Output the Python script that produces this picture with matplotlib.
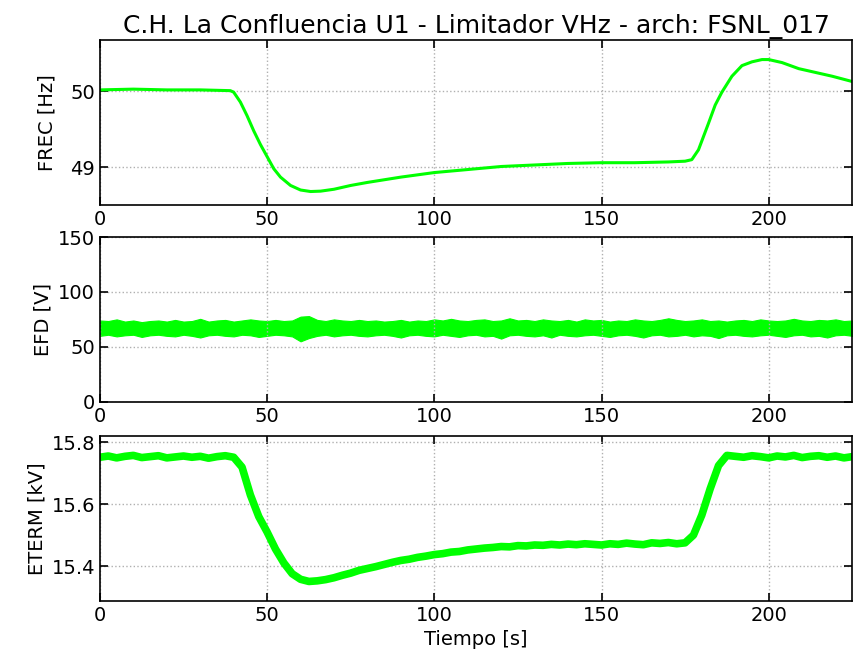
import numpy as np
import matplotlib
matplotlib.use('Agg')
import matplotlib.pyplot as plt

# Frequency trace
frec_t = [0, 10, 20, 30, 39, 40, 42, 44, 46, 48, 50, 52, 54, 57, 60, 63, 66, 70, 75, 80,
          90, 100, 110, 120, 130, 140, 150, 160, 170, 175, 177, 179, 182, 184, 186, 189,
          192, 195, 198, 200, 204, 209, 214, 219, 225]
frec_v = [50.02, 50.03, 50.02, 50.02, 50.01, 49.99, 49.86, 49.68, 49.48, 49.30, 49.14,
          48.98, 48.87, 48.76, 48.70, 48.68, 48.685, 48.71, 48.76, 48.80, 48.87, 48.93,
          48.97, 49.01, 49.03, 49.05, 49.06, 49.06, 49.07, 49.08, 49.10, 49.23, 49.58,
          49.82, 49.99, 50.20, 50.34, 50.39, 50.42, 50.42, 50.38, 50.30, 50.25, 50.20, 50.13]

# Field voltage band (upper / lower envelope every 2.5 s)
efd_upper = [74, 73.5, 75, 73, 74, 72.5, 73.5, 74, 73, 74.5,
             73, 73.5, 75.5, 73, 74, 74.5, 73, 74, 75, 74,
             73.5, 74.5, 73.5, 74, 77.5, 78, 74.5, 73.5, 75, 74,
             73.5, 74.5, 73.5, 74, 73, 73.5, 74.5, 73, 74, 73.5,
             75, 74, 75.5, 74, 73.5, 74.5, 75, 73.5, 74, 76,
             74, 74.5, 73.5, 75, 74, 73.5, 74.5, 73, 75, 74,
             74.5, 73, 74, 73.5, 75, 74, 73.5, 74.5, 76, 74.5,
             73.5, 74, 75, 73.5, 74, 73, 74, 74.5, 73.5, 75,
             74, 73.5, 74, 75.5, 74, 73.5, 74.5, 74, 75, 73.5,
             74]
efd_lower = [60, 61, 59.5, 60.5, 61, 59, 60.5, 61, 60, 59.5,
             61, 60, 58.5, 60.5, 61, 60, 59.5, 61, 60.5, 59,
             60, 61, 60.5, 59.5, 55, 58, 60, 61, 59.5, 60.5,
             61, 60, 59.5, 60.5, 61, 60, 58.5, 60.5, 61, 60,
             59.5, 61, 60, 59, 60.5, 61, 59.5, 60, 57.5, 60.5,
             61, 60, 59.5, 60.5, 58.5, 61, 60, 59.5, 60.5, 61,
             60, 59, 60.5, 61, 60, 58.5, 60.5, 61, 59.5, 60,
             61, 59.5, 60.5, 60, 58, 60.5, 61, 60, 59.5, 60.5,
             61, 60, 59, 60.5, 61, 59.5, 60, 58.5, 60.5, 61,
             60]

# Terminal voltage every 2.5 s
eterm_v = [15.752, 15.756, 15.750, 15.755, 15.758, 15.751, 15.754, 15.757, 15.750, 15.753,
           15.756, 15.752, 15.755, 15.749, 15.754, 15.757, 15.752, 15.720, 15.630, 15.560,
           15.510, 15.455, 15.410, 15.375, 15.357, 15.350, 15.352, 15.356, 15.362, 15.370,
           15.377, 15.386, 15.392, 15.398, 15.405, 15.412, 15.418, 15.422, 15.428, 15.432,
           15.437, 15.440, 15.445, 15.447, 15.452, 15.455, 15.458, 15.460, 15.463, 15.462,
           15.466, 15.465, 15.468, 15.467, 15.470, 15.468, 15.471, 15.469, 15.472, 15.470,
           15.468, 15.472, 15.470, 15.474, 15.471, 15.469, 15.475, 15.473, 15.476, 15.472,
           15.475, 15.500, 15.565, 15.650, 15.725, 15.758, 15.755, 15.752, 15.757, 15.754,
           15.750, 15.756, 15.753, 15.758, 15.751, 15.755, 15.757, 15.752, 15.756, 15.750,
           15.754]

t_efd = np.linspace(0, 225, len(efd_upper))
t_eterm = np.linspace(0, 225, len(eterm_v))

green = '#00ff00'
plt.rcParams['font.size'] = 14

fig = plt.figure(figsize=(8.54, 6.64), dpi=100)
ax1 = fig.add_axes([0.117, 0.691, 0.881, 0.249])
ax2 = fig.add_axes([0.117, 0.395, 0.881, 0.248])
ax3 = fig.add_axes([0.117, 0.095, 0.881, 0.248])

ax1.plot(frec_t, frec_v, color=green, linewidth=2.2)
ax1.set_ylim(48.5, 50.68)
ax1.set_yticks([49, 50])
ax1.set_ylabel('FREC [Hz]', labelpad=10)
ax1.set_title('C.H. La Confluencia U1 - Limitador VHz - arch: FSNL_017', fontsize=18, pad=5)

ax2.fill_between(t_efd, efd_lower, efd_upper, color=green, linewidth=0.8, edgecolor=green)
ax2.set_ylim(0, 150)
ax2.set_yticks([0, 50, 100, 150])
ax2.set_ylabel('EFD [V]')

ax3.plot(t_eterm, eterm_v, color=green, linewidth=5.5)
ax3.set_ylim(15.287, 15.82)
ax3.set_yticks([15.4, 15.6, 15.8])
ax3.set_ylabel('ETERM [kV]')
ax3.set_xlabel('Tiempo [s]')

for ax in (ax1, ax2, ax3):
    ax.set_xlim(0, 225)
    ax.set_xticks([0, 50, 100, 150, 200])
    ax.grid(True, linestyle=':', color='#b0b0b0', linewidth=1)
    ax.tick_params(direction='in', top=True, right=True, length=6, width=1.2)
    for s in ax.spines.values():
        s.set_linewidth(1.2)

fig.savefig('out.png', dpi=100)
